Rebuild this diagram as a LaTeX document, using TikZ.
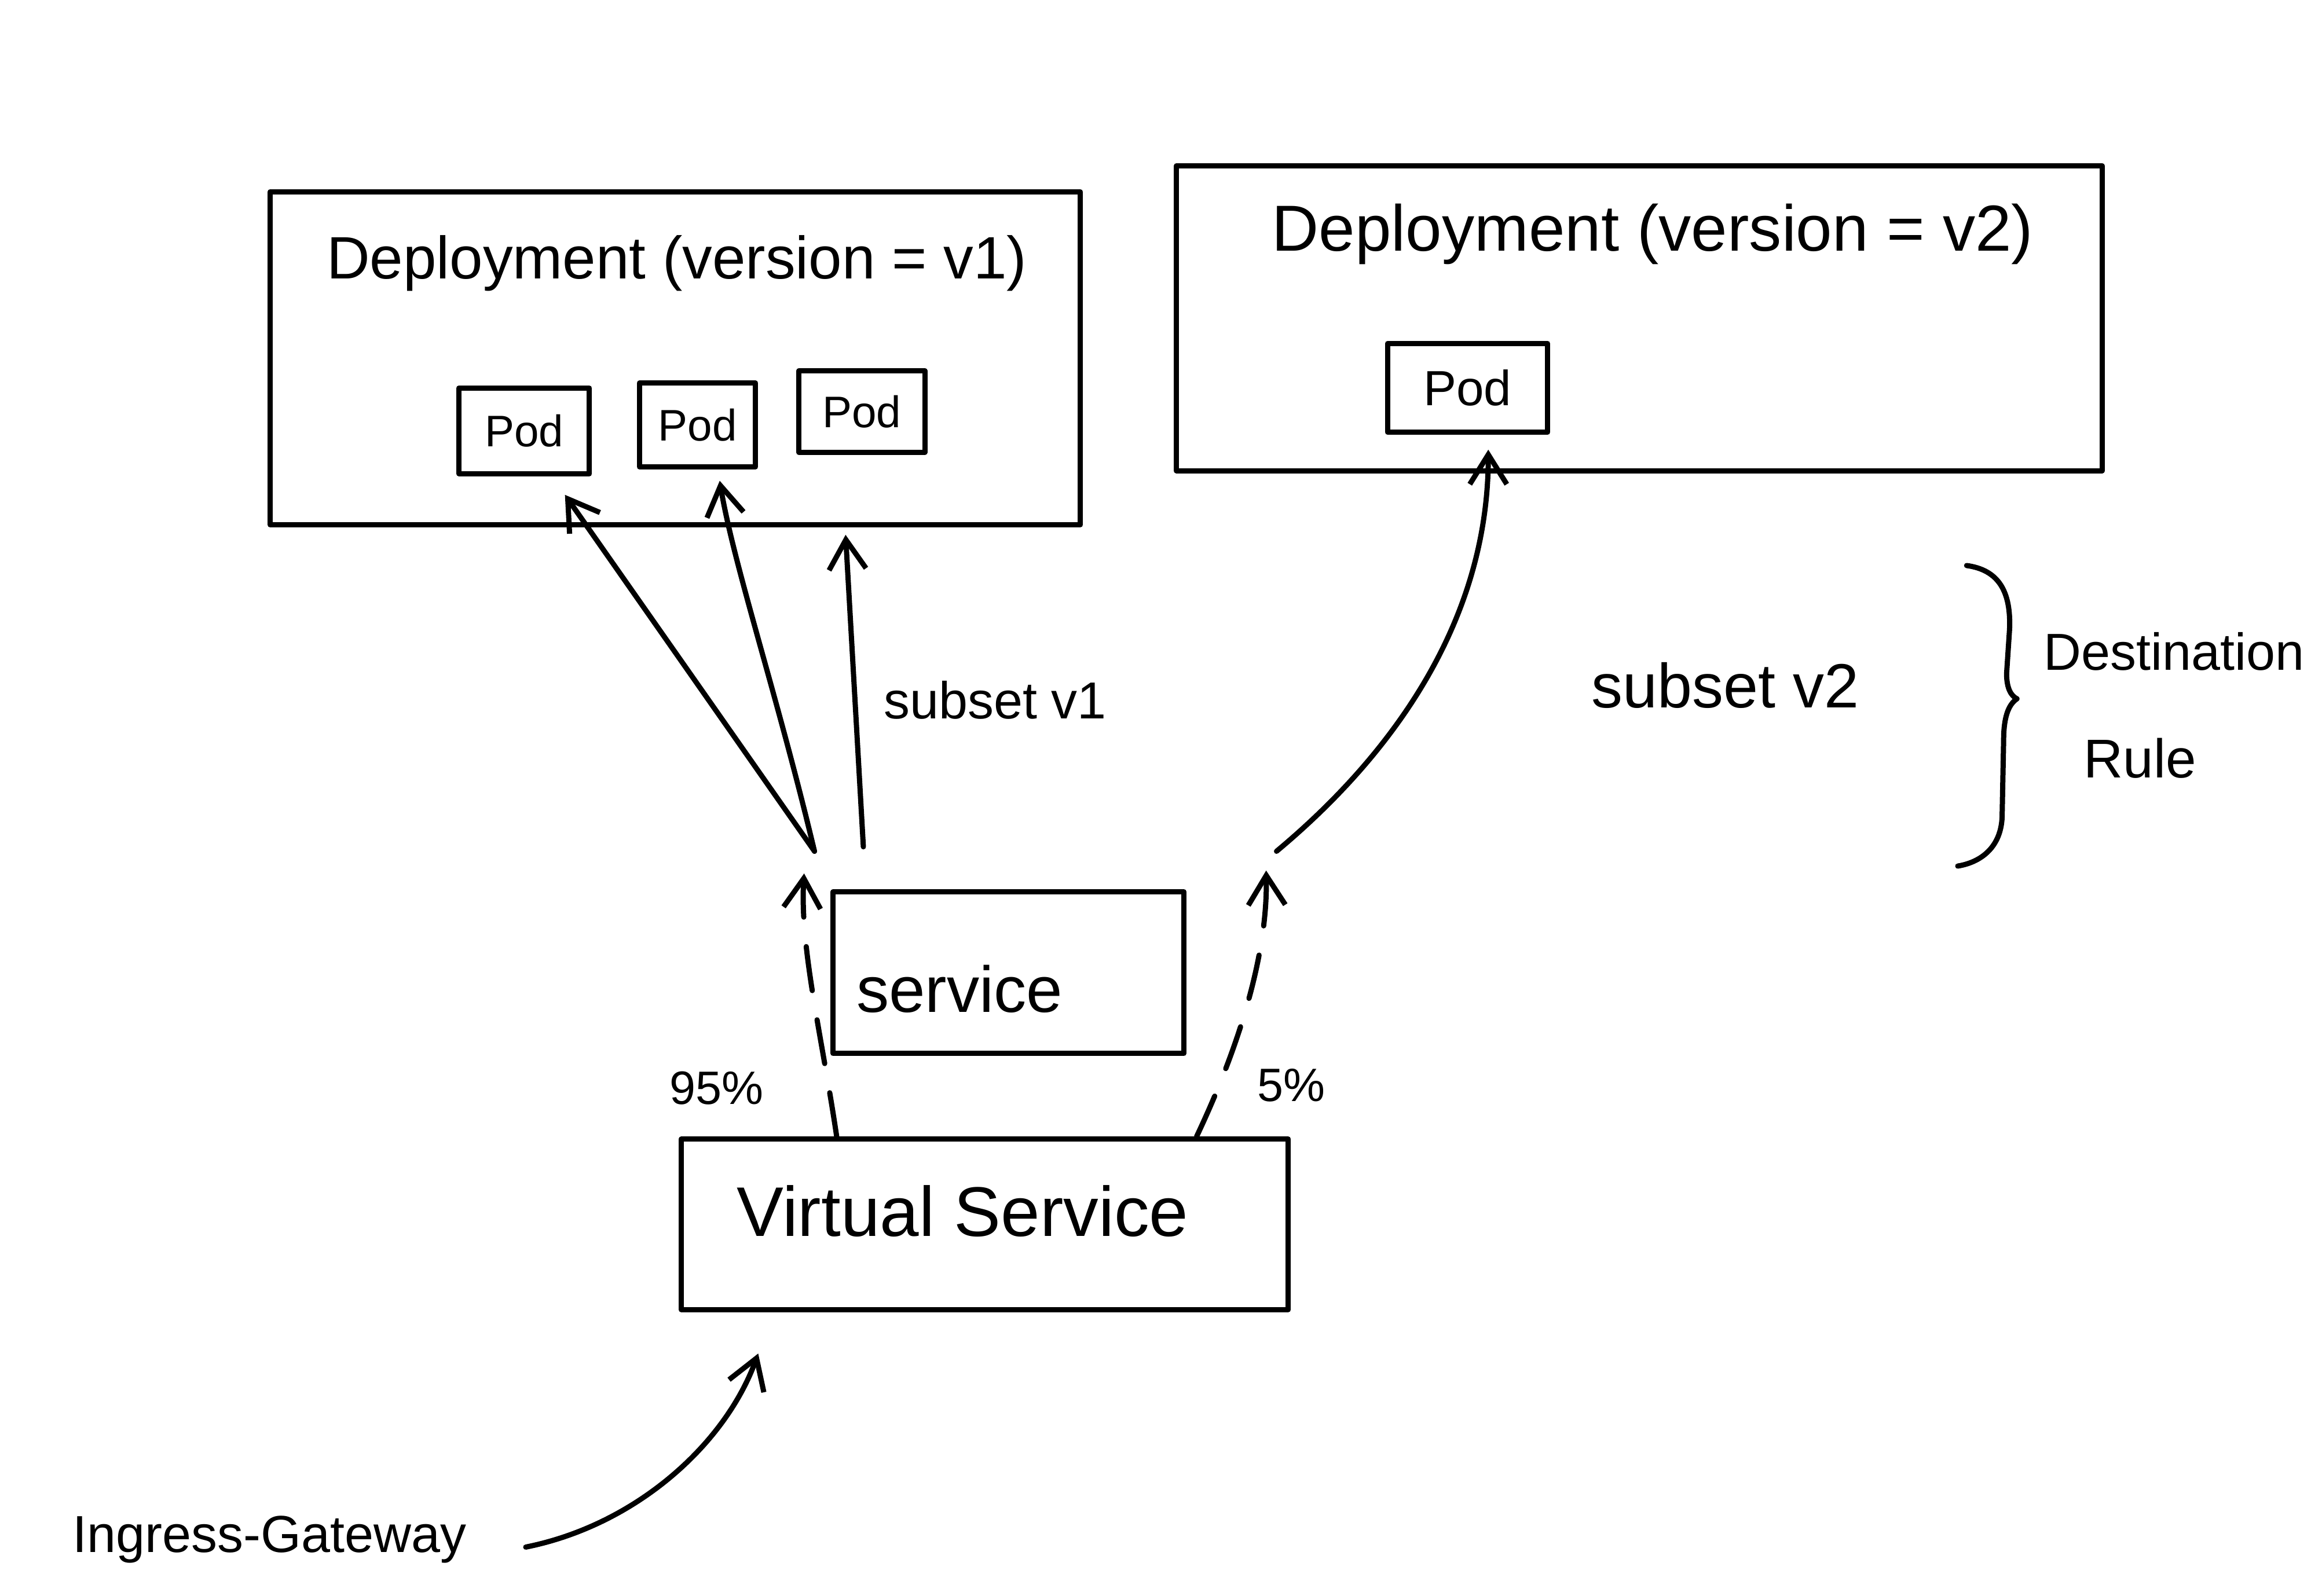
\documentclass[tikz,border=0pt]{standalone}
\usepackage{fontspec}
\setmainfont{Liberation Sans}
\usetikzlibrary{arrows.meta,calc}
\begin{document}
\begin{tikzpicture}[x=0.2mm,y=-0.2mm, line width=2pt, line cap=round, line join=round,
  box/.style={draw, rectangle, inner sep=0pt},
  lbl/.style={inner sep=0pt, anchor=center},
  arr/.style={-{Straight Barb[length=4mm,width=5mm]}},
  dsh/.style={arr, dash pattern=on 6mm off 4mm}]
\useasboundingbox (0,0) rectangle (1568,1078);

% Deployment v1
\node[box, minimum width=109.4mm, minimum height=45mm] (dep1) at (456,242) {};
\node[lbl, font=\fontsize{23}{27}\selectfont] (dep1t) at (457,178) {Deployment (version = v1)};
\node[box, minimum width=17.6mm, minimum height=11.6mm, font=\fontsize{17}{20}\selectfont] (pod1) at (354,291) {Pod};
\node[box, minimum width=15.6mm, minimum height=11.4mm, font=\fontsize{17}{20}\selectfont] (pod2) at (471,287) {Pod};
\node[box, minimum width=17mm, minimum height=11mm, font=\fontsize{17}{20}\selectfont] (pod3) at (582,278) {Pod};

% Deployment v2
\node[box, minimum width=125mm, minimum height=41.2mm] (dep2) at (1107,215) {};
\node[lbl, font=\fontsize{25}{29}\selectfont] (dep2t) at (1116,158) {Deployment (version = v2)};
\node[box, minimum width=21.6mm, minimum height=12mm, font=\fontsize{19}{23}\selectfont] (pod4) at (991,262) {Pod};

% Service and Virtual Service
\node[box, minimum width=47.4mm, minimum height=21.8mm] (svc) at (681,657) {};
\node[lbl, font=\fontsize{25}{30}\selectfont] (svct) at (648,668) {service};
\node[box, minimum width=82mm, minimum height=23mm] (vs) at (665,827) {};
\node[lbl, font=\fontsize{27}{32}\selectfont] (vst) at (650,818) {Virtual Service};

% labels
\node[lbl, font=\fontsize{20}{24}\selectfont] (sub1) at (672,473) {subset v1};
\node[lbl, font=\fontsize{24}{28}\selectfont] (sub2) at (1165,463) {subset v2};
\node[lbl, font=\fontsize{18}{22}\selectfont] (p95) at (484,735) {95\%};
\node[lbl, font=\fontsize{18}{22}\selectfont] (p5) at (872,733) {5\%};
\node[lbl, font=\fontsize{20}{24}\selectfont] (dest) at (1468,440) {Destination};
\node[lbl, font=\fontsize{21}{25}\selectfont] (rule) at (1445,512) {Rule};
\node[lbl, font=\fontsize{20}{24}\selectfont] (ingress) at (182,1040) {Ingress-Gateway};

% start coordinates
\coordinate (s1) at (550,575);
\coordinate (s3) at (583,572);
\coordinate (s4) at (862,575);
\coordinate (e1) at (543,590);
\coordinate (e2) at (855,588);
\coordinate (ig) at (355,1045);

% solid arrows
\draw[arr] (s1) -- ([xshift=5.5mm,yshift=-2.5mm]pod1.south);
\draw[arr] (s1) .. controls (525,470) and (495,380) .. ([xshift=3mm,yshift=-1.5mm]pod2.south);
\draw[arr] (s3) -- ([xshift=23mm,yshift=-1mm]dep1.south);
\draw[arr] (s4) .. controls (940,510) and (1005,420) .. ([xshift=2.8mm,yshift=-2mm]pod4.south);

% dashed arrows
\draw[dsh] ([xshift=-20mm]vs.north) .. controls (555,700) and (540,640) .. (e1);
\draw[dsh] ([xshift=28.6mm]vs.north) .. controls (840,700) and (856,640) .. (e2);

% ingress arrow
\draw[arr] (ig) .. controls (430,1030) and (490,975) .. ([xshift=-30.6mm,yshift=-5.6mm]vs.south);

% brace
\draw (1328,382) .. controls (1350,385) and (1358,400) .. (1357,425)
  -- (1355,455) .. controls (1355,465) and (1358,470) .. (1362,472)
  .. controls (1356,476) and (1353,485) .. (1353,500)
  -- (1352,550) .. controls (1352,570) and (1340,582) .. (1322,585);
\end{tikzpicture}
\end{document}
